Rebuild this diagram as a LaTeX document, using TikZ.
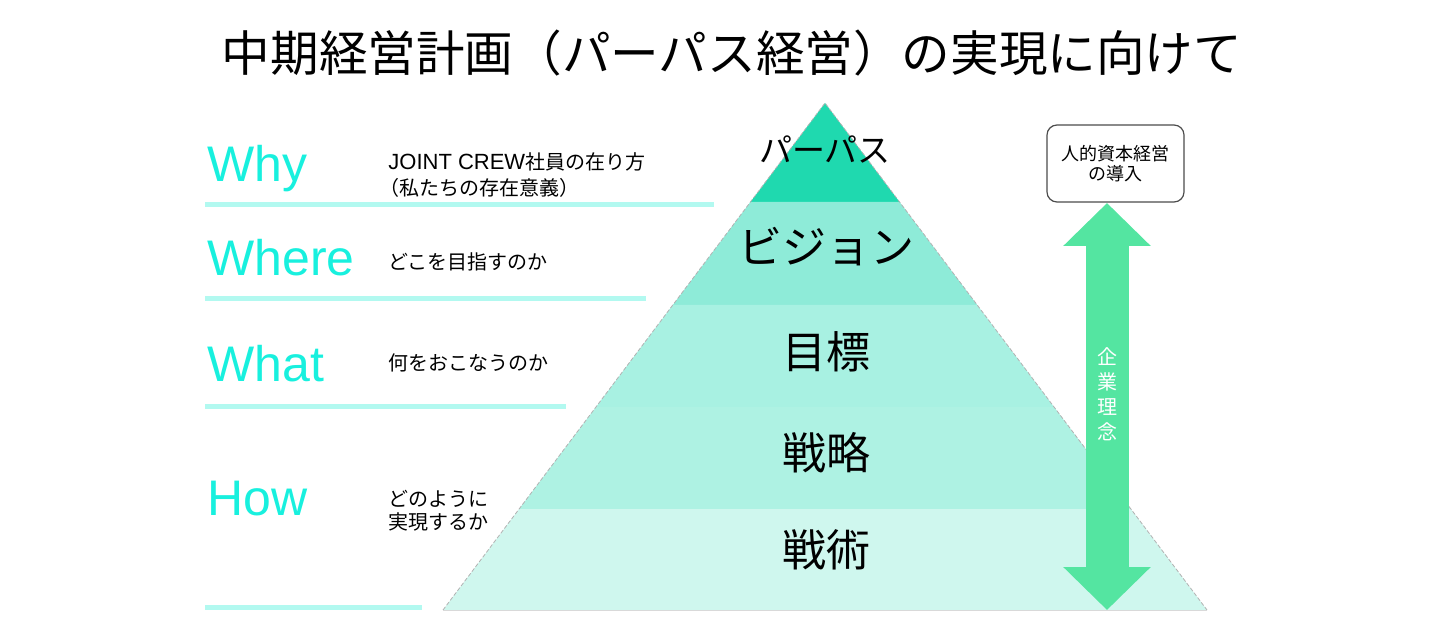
\documentclass[tikz,border=0pt]{standalone}
\usepackage{fontspec}
\setmainfont{Liberation Sans}
\newfontfamily\jpfont{Noto Sans CJK JP}
\usepackage{tikz}
\usetikzlibrary{arrows.meta,calc}
\definecolor{bandA}{RGB}{31,217,175}
\definecolor{bandB}{RGB}{142,235,216}
\definecolor{bandC}{RGB}{168,241,226}
\definecolor{bandD}{RGB}{174,242,227}
\definecolor{bandE}{RGB}{207,247,238}
\definecolor{keycyan}{RGB}{24,240,222}
\definecolor{rulecyan}{RGB}{178,249,240}
\definecolor{arrowgreen}{RGB}{84,229,161}

\begin{document}
\begin{tikzpicture}[x=0.5pt,y=-0.5pt,
  title/.style={inner sep=0pt,font=\jpfont\fontsize{24.3}{29}\selectfont},
  key/.style={anchor=base west,inner sep=0pt,text=keycyan,font=\fontsize{25}{30}\selectfont},
  desc/.style={anchor=west,inner sep=0pt,align=left,font=\jpfont\fontsize{10}{11.5}\selectfont},
  layer/.style={inner sep=0pt,font=\jpfont\fontsize{22}{26}\selectfont},
  rule/.style={draw=rulecyan,line width=2.5pt},
  edge/.style={draw=black!30,line width=.4pt,dash pattern=on 2pt off 1pt},
  infobox/.style={draw=black!70,line width=.6pt,rounded corners=5pt,fill=white,minimum width=68.5pt,minimum height=38.5pt,inner sep=0pt,align=center,font=\jpfont\fontsize{9}{10}\selectfont},
  bigarr/.style={draw=arrowgreen,line width=21.5pt,{Triangle[width=42.5pt,length=21.5pt]}-{Triangle[width=42.5pt,length=21.5pt]}}]
\useasboundingbox (0,0) rectangle (1440,630);
\node[title] (title) at (732,53) {中期経営計画（パーパス経営）の実現に向けて};
% pyramid
\coordinate (apex) at (825,103);
\coordinate (bl) at (443,610);
\coordinate (br) at (1207,610);
\coordinate (l1) at ($(apex)!.195!(bl)$); \coordinate (r1) at ($(apex)!.195!(br)$);
\coordinate (l2) at ($(apex)!.398!(bl)$); \coordinate (r2) at ($(apex)!.398!(br)$);
\coordinate (l3) at ($(apex)!.600!(bl)$); \coordinate (r3) at ($(apex)!.600!(br)$);
\coordinate (l4) at ($(apex)!.801!(bl)$); \coordinate (r4) at ($(apex)!.801!(br)$);
\fill[bandA] (apex) -- (r1) -- (l1) -- cycle;
\fill[bandB] (l1) -- (r1) -- (r2) -- (l2) -- cycle;
\fill[bandC] (l2) -- (r2) -- (r3) -- (l3) -- cycle;
\fill[bandD] (l3) -- (r3) -- (r4) -- (l4) -- cycle;
\fill[bandE] (l4) -- (r4) -- (br) -- (bl) -- cycle;
\draw[edge] (bl) -- (apex) -- (br);
\draw[draw=black!15,line width=.4pt] (bl) -- (br);
\node[layer,font=\jpfont\fontsize{16.5}{20}\selectfont] (purpose) at (825,150) {パーパス};
\node[layer] (vision) at (826,247) {ビジョン};
\node[layer] (goal) at (826,352) {目標};
\node[layer] (strategy) at (826,453) {戦略};
\node[layer] (tactics) at (826,550) {戦術};
% left column
\node[key] (why) at (207,182) {Why};
\node[key] (where) at (207,276) {Where};
\node[key] (what) at (207,382) {What};
\node[key] (how) at (207,515) {How};
\node[desc] (whyd) at (388,175) {{\rmfamily\fontsize{11}{11.5}\selectfont JOINT CREW}社員の在り方\\[1.5pt]\kern-4.5pt（私たちの存在意義）};
\node[desc] (whered) at (388,262) {どこを目指すのか};
\node[desc] (whatd) at (388,363) {何をおこなうのか};
\node[desc] (howd) at (388,511) {どのように\\実現するか};
\draw[rule] (205,205) -- (714,205);
\draw[rule] (205,299) -- (646,299);
\draw[rule] (205,407) -- (566,407);
\draw[rule] (205,607) -- (422,607);
% right side
\coordinate (atop) at (1107,203);
\coordinate (abot) at (1107,610);
\draw[bigarr] (atop) -- node[pos=.47,inner sep=0pt,text=white,align=center,font=\jpfont\fontsize{10}{12.5}\selectfont] (creed) {企\\業\\理\\念} (abot);
\node[infobox] (hcm) at (1115.5,163.5) {人的資本経営\\の導入};
\end{tikzpicture}
\end{document}
